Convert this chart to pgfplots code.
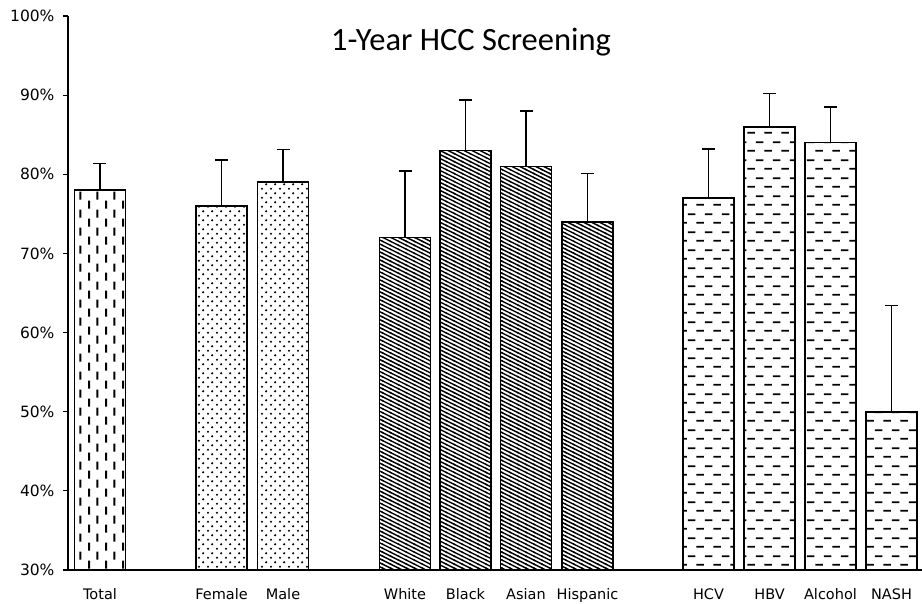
\documentclass[border=0pt]{standalone}
\usepackage{pgfplots}
\pgfplotsset{compat=1.18}
\usetikzlibrary{patterns}
\usepackage{fontspec}
\setmainfont{DejaVu Sans}
\newfontfamily\titlefont{Carlito}

\pgfdeclarepatternformonly{vdash}{\pgfqpoint{0pt}{0pt}}{\pgfqpoint{17.2pt}{18pt}}{\pgfqpoint{17.2pt}{18pt}}{%
  \pgfsetlinewidth{2pt}%
  \pgfpathmoveto{\pgfqpoint{4.3pt}{0.5pt}}\pgfpathlineto{\pgfqpoint{4.3pt}{8.5pt}}%
  \pgfpathmoveto{\pgfqpoint{12.9pt}{9.5pt}}\pgfpathlineto{\pgfqpoint{12.9pt}{17.5pt}}%
  \pgfusepath{stroke}}
\pgfdeclarepatternformonly{sdots}{\pgfqpoint{0pt}{0pt}}{\pgfqpoint{8.6pt}{9pt}}{\pgfqpoint{8.6pt}{9pt}}{%
  \pgfpathcircle{\pgfqpoint{2.15pt}{2.25pt}}{1.2pt}%
  \pgfpathcircle{\pgfqpoint{6.45pt}{6.75pt}}{1.2pt}%
  \pgfusepath{fill}}
\pgfdeclarepatternformonly{diag}{\pgfqpoint{-1pt}{-1pt}}{\pgfqpoint{9pt}{5pt}}{\pgfqpoint{8pt}{4pt}}{%
  \pgfsetlinewidth{1.4pt}%
  \pgfpathmoveto{\pgfqpoint{-1pt}{4.5pt}}\pgfpathlineto{\pgfqpoint{9pt}{-0.5pt}}%
  \pgfusepath{stroke}}
\pgfdeclarepatternformonly{hdash}{\pgfqpoint{0pt}{0pt}}{\pgfqpoint{17.5pt}{17.6pt}}{\pgfqpoint{17.5pt}{17.6pt}}{%
  \pgfsetlinewidth{1.8pt}%
  \pgfpathmoveto{\pgfqpoint{0.5pt}{4.4pt}}\pgfpathlineto{\pgfqpoint{8.25pt}{4.4pt}}%
  \pgfpathmoveto{\pgfqpoint{9.25pt}{13.2pt}}\pgfpathlineto{\pgfqpoint{17pt}{13.2pt}}%
  \pgfusepath{stroke}}

\begin{document}
\begin{tikzpicture}
\begin{axis}[
  scale only axis,
  width=854bp, height=554bp,
  xmin=68, xmax=922,
  ymin=30, ymax=100,
  ytick={30,40,...,100},
  yticklabel={\pgfmathprintnumber{\tick}\%},
  /pgf/number format/assume math mode=true,
  xtick={100,221.5,283,405,465.5,526,587.5,708.5,769.5,830.5,891.5},
  xticklabels={Total,Female,Male,White,Black,Asian,Hispanic,HCV,HBV,Alcohol,NASH},
  x tick style={draw=none},
  y tick style={line width=1.2pt, black},
  major tick length=5bp,
  tick align=outside,
  axis x line*=bottom, axis y line*=left,
  axis line style={line width=1.5pt, black},
  xticklabel style={yshift=-10bp, font=\fontsize{14.5bp}{16bp}\selectfont},
  yticklabel style={xshift=-5bp, font=\fontsize{15.5bp}{17bp}\selectfont},
  ybar, bar width=51, bar shift=0pt,
  error bars/y dir=plus, error bars/y explicit,
  error bars/error bar style={line width=1.3pt, black},
  error bars/error mark options={rotate=90, mark size=6.5bp, line width=1.3pt, black},
]
\addplot[draw=black, line width=1.6pt, pattern=vdash] coordinates {(100,78) += (0,3.4)};
\addplot[draw=black, line width=1.6pt, pattern=sdots] coordinates {(221.5,76) += (0,5.8) (283,79) += (0,4.1)};
\addplot[draw=black, line width=1.6pt, pattern=diag] coordinates {(405,72) += (0,8.4) (465.5,83) += (0,6.4) (526,81) += (0,7.0) (587.5,74) += (0,6.1)};
\addplot[draw=black, line width=1.6pt, pattern=hdash] coordinates {(708.5,77) += (0,6.2) (769.5,86) += (0,4.2) (830.5,84) += (0,4.5) (891.5,50) += (0,13.4)};
\node[font=\titlefont\fontsize{32.5bp}{36bp}\selectfont, anchor=center] at (axis cs:471,96.75) {1-Year HCC Screening};
\end{axis}
\pgfresetboundingbox
\path[use as bounding box] ([shift={(-68bp,-34bp)}]current axis.south west) rectangle ([shift={(0bp,16bp)}]current axis.north east);
\end{tikzpicture}
\end{document}
